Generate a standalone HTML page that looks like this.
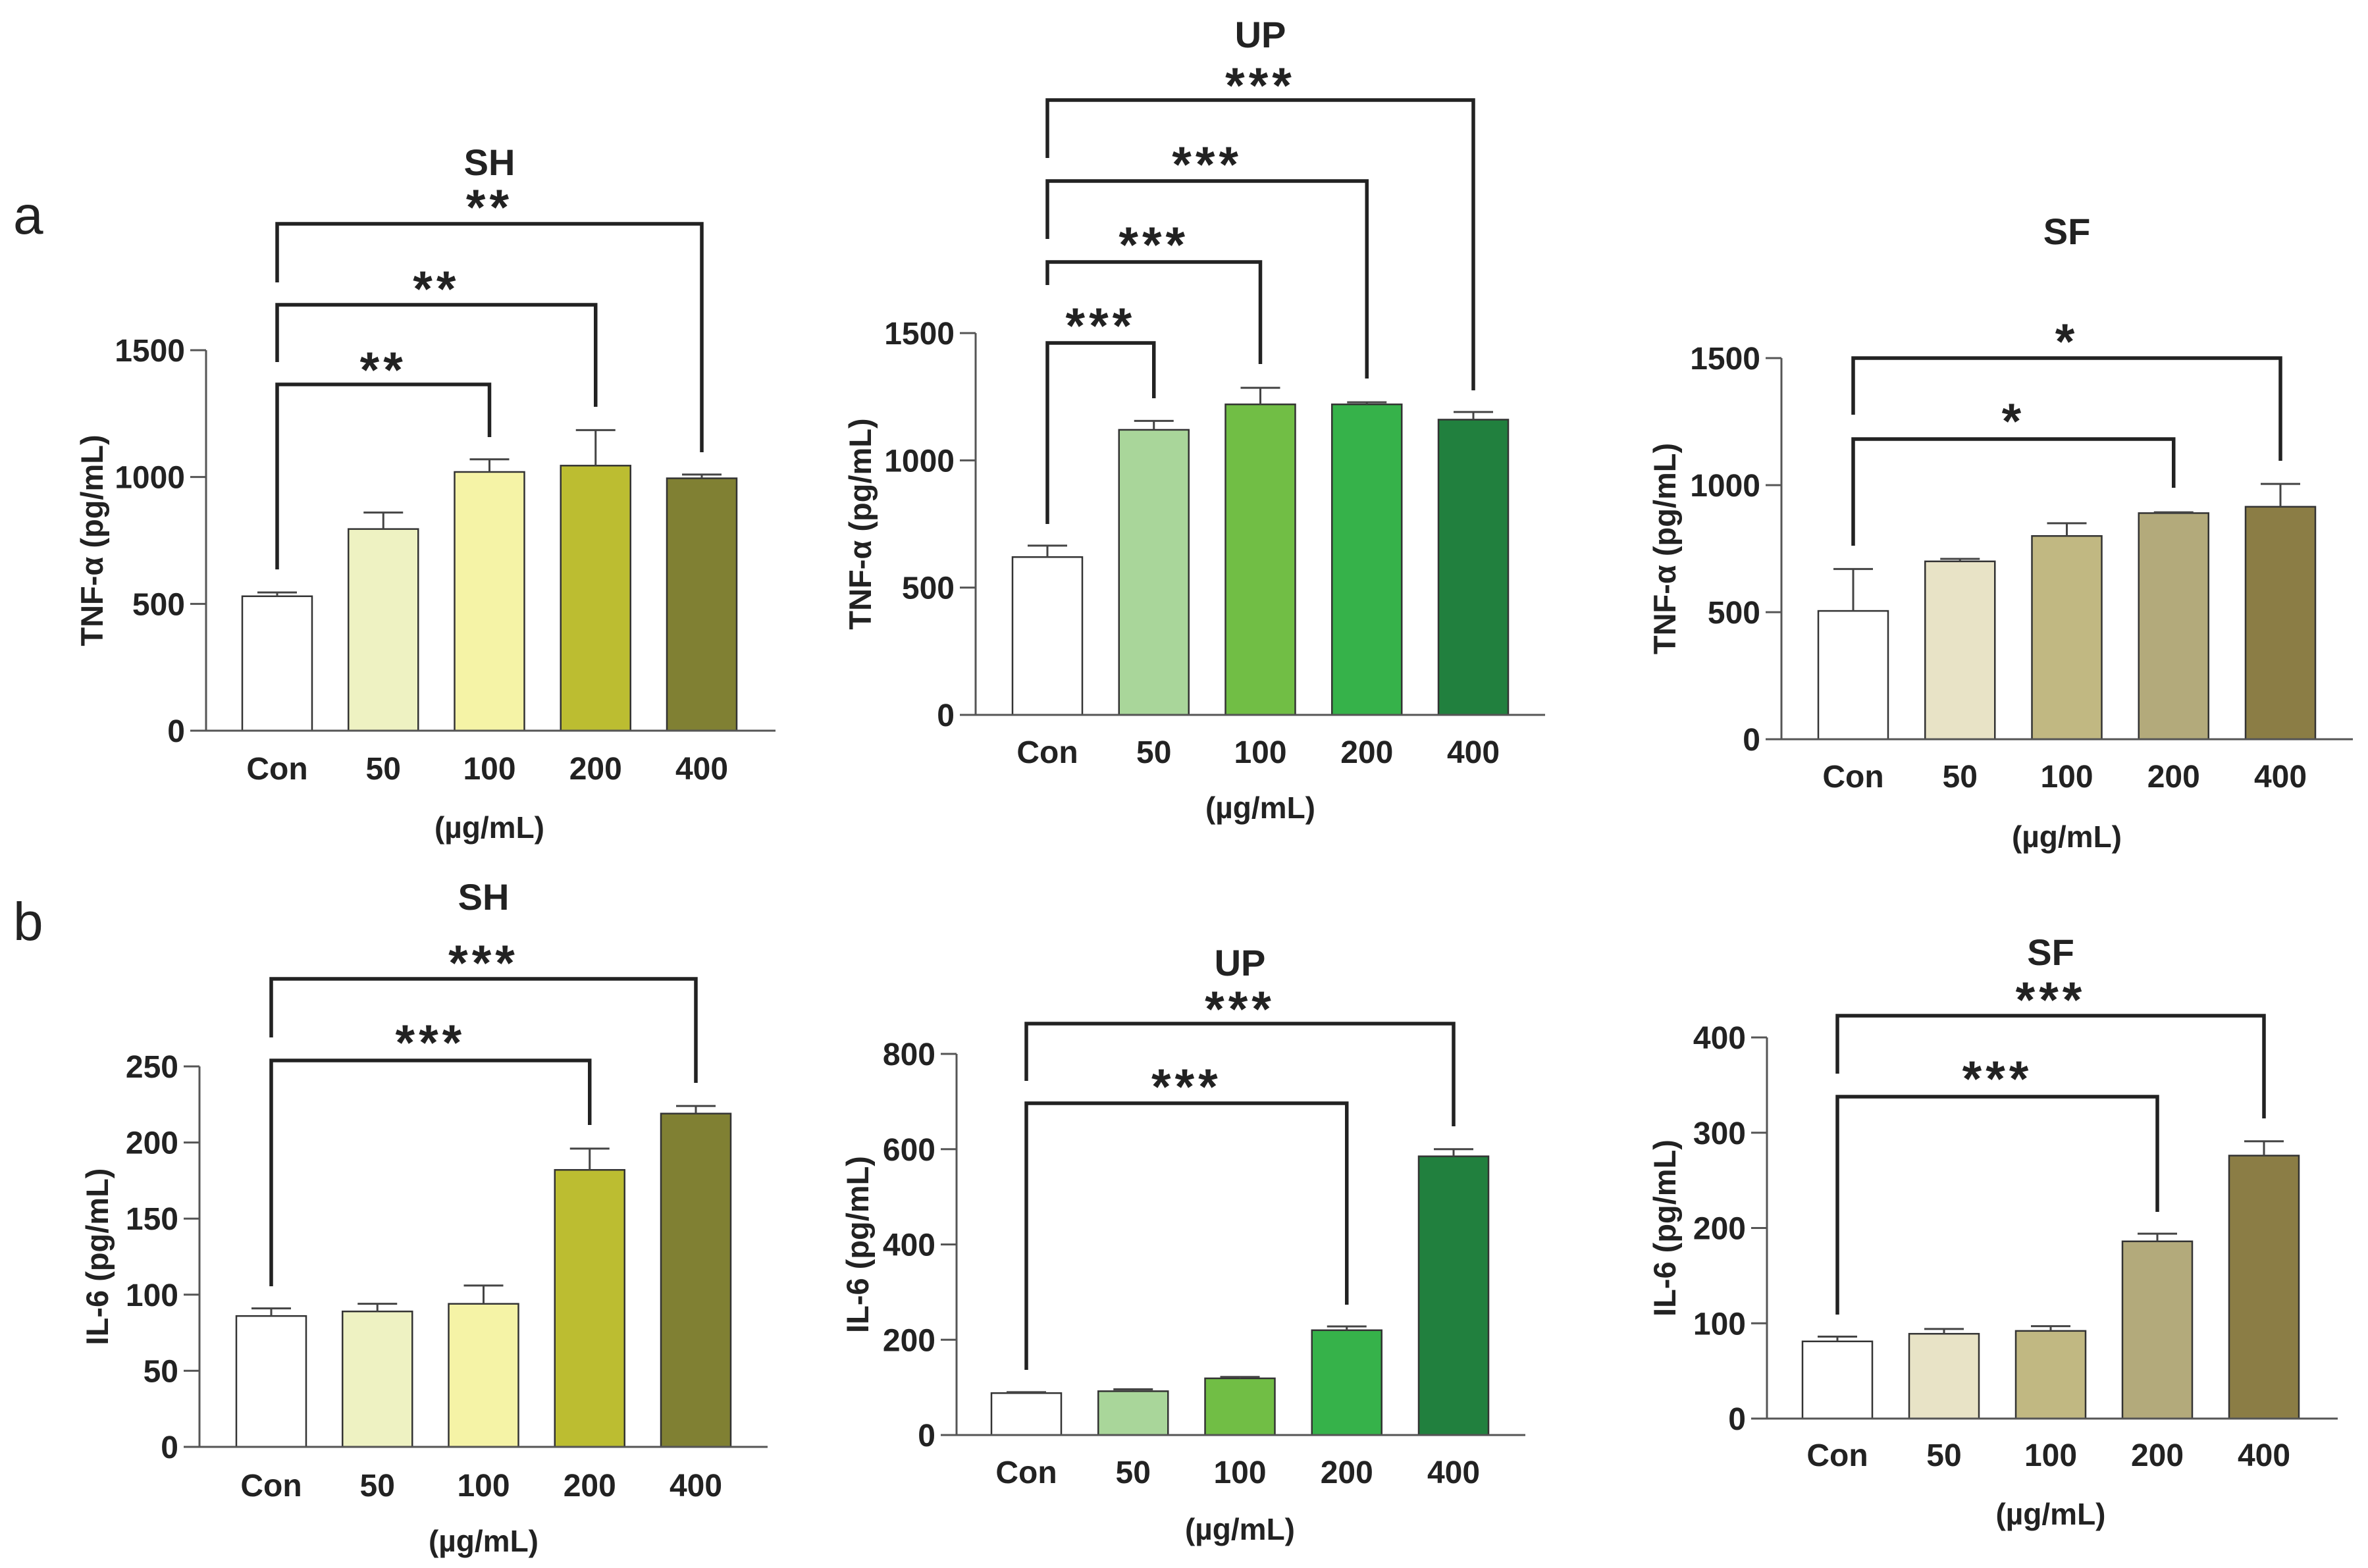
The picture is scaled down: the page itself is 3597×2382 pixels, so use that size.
<!DOCTYPE html>
<html><head><meta charset="utf-8">
<style>
html,body{margin:0;padding:0;background:#fff;overflow:hidden;}
svg{display:block;font-family:"Liberation Sans",Arial,sans-serif;}
</style></head>
<body>
<svg id="fig" width="3597" height="2382" viewBox="0 0 3597 2382" xmlns="http://www.w3.org/2000/svg">
<text x="20" y="355" font-size="82" fill="#222">a</text>
<text x="20" y="1428" font-size="82" fill="#222">b</text>
</svg>
<script>
const categories = ["Con","50","100","200","400"];
// TNF-alpha values
const tnfSH = [530, 795, 1020, 1045, 995];
const tnfSHerr = [545, 860, 1070, 1185, 1010];
const tnfUP = [620, 1120, 1220, 1220, 1160];
const tnfUPerr = [665, 1155, 1285, 1228, 1190];
const tnfSF = [505, 700, 800, 890, 915];
const tnfSFerr = [670, 710, 850, 893, 1005];
// IL-6 values
const il6SH = [86, 89, 94, 182, 219];
const il6SHerr = [91, 94, 106, 196, 224];
const il6UP = [88, 92, 119, 220, 585];
const il6UPerr = [90, 96, 122, 228, 600];
const il6SF = [81, 89, 92, 186, 276];
const il6SFerr = [86, 94, 97, 194, 291];
// tick labels
const ticksTNF = [0, 500, 1000, 1500];
const ticksIL6SH = [0, 50, 100, 150, 200, 250];
const ticksIL6UP = [0, 200, 400, 600, 800];
const ticksIL6SF = [0, 100, 200, 300, 400];
// significance stars
const sigSH_a = ["**","**","**"];
const sigUP_a = ["***","***","***","***"];
const sigSF_a = ["*","*"];
const sigSH_b = ["***","***"];
const sigUP_b = ["***","***"];
const sigSF_b = ["***","***"];

const colSH = ["#ffffff","#eef2c2","#f5f3a6","#bcbd31","#808033"];
const colUP = ["#ffffff","#a9d69a","#71be45","#36b24a","#21803e"];
const colSF = ["#ffffff","#e8e3c6","#c1b882","#b3aa7b","#8b7d45"];

const NS = "http://www.w3.org/2000/svg";
const svg = document.getElementById("fig");
function mk(tag, attrs, parent){
  const e = document.createElementNS(NS, tag);
  for (const k in attrs) e.setAttribute(k, attrs[k]);
  (parent||svg).appendChild(e);
  return e;
}

const panels = [
 {id:"a-sh", title:"SH", ylab:"TNF-α (pg/mL)", vals:tnfSH, errs:tnfSHerr, ticks:ticksTNF, cols:colSH, sig:sigSH_a,
  ax:313, y0:1110, yTop:532, xEnd:1178, conL:368, lastL:1013, titleY:266, ylabX:140, labY:1184, unitY:1273,
  brk:[{j:2,top:584,lb:865,rb:664,sy:552},{j:3,top:463,lb:550,rb:618,sy:429},{j:4,top:340,lb:429,rb:687,sy:305}]},
 {id:"a-up", title:"UP", ylab:"TNF-α (pg/mL)", vals:tnfUP, errs:tnfUPerr, ticks:ticksTNF, cols:colUP, sig:sigUP_a,
  ax:1482, y0:1086, yTop:506, xEnd:2347, conL:1538, lastL:2185, titleY:72, ylabX:1307, labY:1159, unitY:1243,
  brk:[{j:1,top:521,lb:796,rb:605,sy:485},{j:2,top:398,lb:433,rb:553,sy:362},{j:3,top:275,lb:363,rb:575,sy:240},{j:4,top:152,lb:240,rb:593,sy:120}]},
 {id:"a-sf", title:"SF", ylab:"TNF-α (pg/mL)", vals:tnfSF, errs:tnfSFerr, ticks:ticksTNF, cols:colSF, sig:sigSF_a,
  ax:2706, y0:1123, yTop:544, xEnd:3574, conL:2762, lastL:3411, titleY:371, ylabX:2529, labY:1196, unitY:1287,
  brk:[{j:3,top:667,lb:829,rb:741,sy:630},{j:4,top:544,lb:630,rb:700,sy:509}]},
 {id:"b-sh", title:"SH", ylab:"IL-6 (pg/mL)", vals:il6SH, errs:il6SHerr, ticks:ticksIL6SH, cols:colSH, sig:sigSH_b,
  ax:303, y0:2198, yTop:1620, xEnd:1166, conL:359, lastL:1004, titleY:1382, ylabX:148, labY:2273, unitY:2357,
  brk:[{j:3,top:1611,lb:1954,rb:1709,sy:1574},{j:4,top:1487,lb:1576,rb:1645,sy:1453}]},
 {id:"b-up", title:"UP", ylab:"IL-6 (pg/mL)", vals:il6UP, errs:il6UPerr, ticks:ticksIL6UP, cols:colUP, sig:sigUP_b,
  ax:1453, y0:2180, yTop:1601, xEnd:2317, conL:1506, lastL:2155, titleY:1482, ylabX:1303, labY:2253, unitY:2339,
  brk:[{j:3,top:1676,lb:2081,rb:1982,sy:1641},{j:4,top:1555,lb:1642,rb:1711,sy:1523}]},
 {id:"b-sf", title:"SF", ylab:"IL-6 (pg/mL)", vals:il6SF, errs:il6SFerr, ticks:ticksIL6SF, cols:colSF, sig:sigSF_b,
  ax:2684, y0:2155, yTop:1576, xEnd:3551, conL:2738, lastL:3386, titleY:1466, ylabX:2529, labY:2227, unitY:2316,
  brk:[{j:3,top:1666,lb:1997,rb:1841,sy:1629},{j:4,top:1543,lb:1631,rb:1699,sy:1509}]}
];

panels.forEach(p => {
  const g = mk("g", {});
  
  
  const tmax = p.ticks[p.ticks.length-1];
  const y = v => p.y0 - (v/tmax)*(p.y0-p.yTop);
  const bw = 106;
  const step = (p.lastL - p.conL)/(categories.length-1);
  const bx = i => p.conL + i*step;
  const cx = i => bx(i) + bw/2;

  p.vals.forEach((v,i) => {
    const r = mk("rect", {x:bx(i), y:y(v), width:bw, height:p.y0-y(v), fill:p.cols[i], stroke:"#333", "stroke-width":2.5}, g);
    
    
    const e = mk("path", {d:`M${cx(i)} ${y(v)}V${y(p.errs[i])}M${cx(i)-30} ${y(p.errs[i])}H${cx(i)+30}`, stroke:"#444", "stroke-width":3, fill:"none"}, g);
    
    
  });
  const axes = mk("path", {d:`M${p.ax} ${p.yTop}V${p.y0}H${p.xEnd}`, stroke:"#555", "stroke-width":3, fill:"none"}, g);
  
  
  p.ticks.forEach(t => {
    mk("path", {d:`M${p.ax-24} ${y(t)}H${p.ax}`, stroke:"#555", "stroke-width":3}, g);
    const tl = mk("text", {x:p.ax-32, y:y(t)+17, "font-size":48, "font-weight":"bold", "text-anchor":"end", fill:"#222"}, g);
    tl.textContent = t;
    
    
  });
  categories.forEach((c,i) => {
    const tl = mk("text", {x:cx(i), y:p.labY, "font-size":48, "font-weight":"bold", "text-anchor":"middle", fill:"#222"}, g);
    tl.textContent = c;
    
    
  });
  const un = mk("text", {x:(cx(0)+cx(4))/2, y:p.unitY, "font-size":46, "font-weight":"bold", "text-anchor":"middle", fill:"#222"}, g);
  un.textContent = "(µg/mL)";
  
  
  const ym = (p.y0+p.yTop)/2;
  const yl = mk("text", {x:p.ylabX, y:ym, "font-size":47, "font-weight":"bold", "text-anchor":"middle", fill:"#222", transform:`rotate(-90 ${p.ylabX} ${ym})`, dy:16}, g);
  yl.textContent = p.ylab;
  
  
  const tt = mk("text", {x:(cx(0)+cx(4))/2, y:p.titleY, "font-size":56, "font-weight":"bold", "text-anchor":"middle", fill:"#222"}, g);
  tt.textContent = p.title;
  
  
  p.brk.forEach((b,k) => {
    const br = mk("path", {d:`M${cx(0)} ${b.lb}V${b.top}H${cx(b.j)}V${b.rb}`, stroke:"#222", "stroke-width":5.5, fill:"none"}, g);
    
    
    const st = mk("text", {x:(cx(0)+cx(b.j))/2, y:b.sy+36, "font-size":76, "font-weight":"bold", "text-anchor":"middle", fill:"#222", "letter-spacing":"6"}, g);
    st.textContent = p.sig[k];
    
    
  });
});
</script>
</body></html>
